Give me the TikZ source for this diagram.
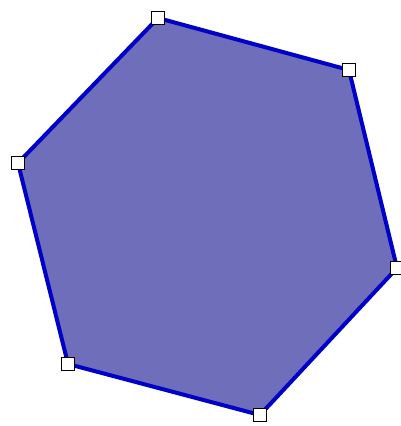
\documentclass[tikz,border=0pt]{standalone}
\definecolor{hexfill}{RGB}{110,110,186}
\definecolor{hexedge}{RGB}{0,0,200}
\tikzset{
  vtx/.style={draw=black, fill=white, line width=1.6pt, minimum size=13pt, inner sep=0pt, rectangle},
  hexside/.style={draw=hexedge, line width=4pt, line join=round, fill=hexfill}
}
\begin{document}
\begin{tikzpicture}[x=1pt,y=-1pt]
\useasboundingbox[fill=white] (0,0) rectangle (400,426);
\coordinate (p1) at (158,18);
\coordinate (p2) at (349,70);
\coordinate (p3) at (397,268);
\coordinate (p4) at (260,415);
\coordinate (p5) at (68,364);
\coordinate (p6) at (18,163);
\path[hexside] (p1) -- (p2) -- (p3) -- (p4) -- (p5) -- (p6) -- cycle;
\node[vtx] (v1) at (p1) {};
\node[vtx] (v2) at (p2) {};
\node[vtx] (v3) at (p3) {};
\node[vtx] (v4) at (p4) {};
\node[vtx] (v5) at (p5) {};
\node[vtx] (v6) at (p6) {};
\end{tikzpicture}
\end{document}
